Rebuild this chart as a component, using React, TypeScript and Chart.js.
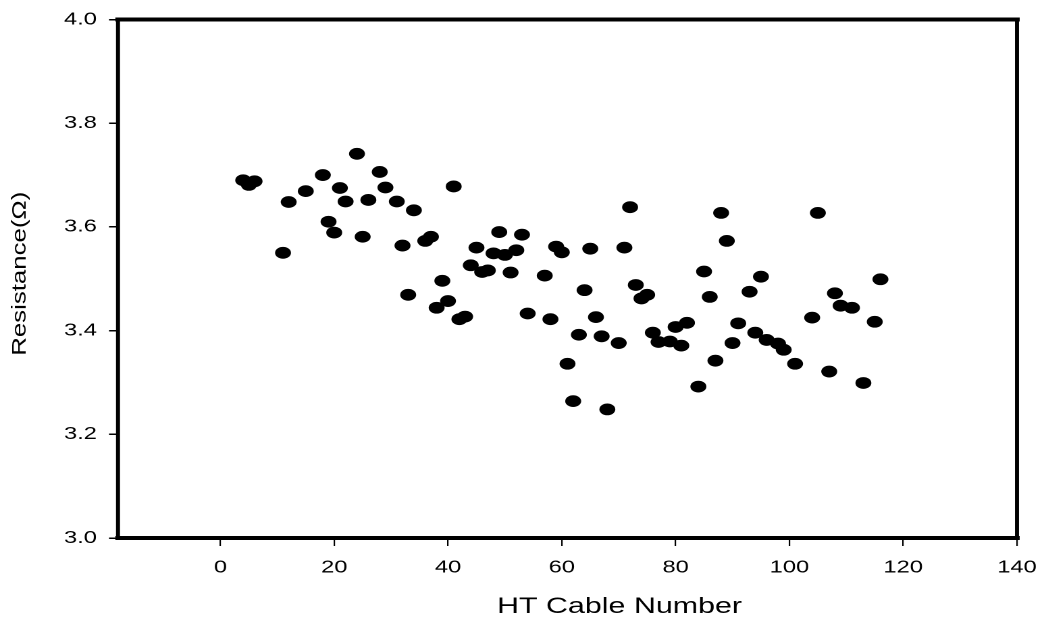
import { useEffect, useRef } from "react";
import { Chart, registerables } from "chart.js";

Chart.register(...registerables);

// Cable index and measured resistance (Ω)
const CABLE_NUMBER = [
  4, 5, 6, 11, 12, 15, 18, 19, 20, 21, 22, 24, 25, 26, 28, 29, 31, 32, 33, 34,
  36, 37, 38, 39, 40, 41, 42, 43, 44, 45, 46, 47, 48, 49, 50, 51, 52, 53, 54,
  57, 58, 59, 60, 61, 62, 63, 64, 65, 66, 67, 68, 70, 71, 72, 73, 74, 75, 76,
  77, 79, 80, 81, 82, 84, 85, 86, 87, 88, 89, 90, 91, 93, 94, 95, 96, 98, 99,
  101, 104, 105, 107, 108, 109, 111, 113, 115, 116,
];
const RESISTANCE = [
  3.69, 3.681, 3.688, 3.55, 3.648, 3.669, 3.7, 3.61, 3.589, 3.675, 3.649, 3.741,
  3.581, 3.652, 3.706, 3.676, 3.649, 3.564, 3.469, 3.632, 3.573, 3.581, 3.444,
  3.496, 3.457, 3.678, 3.422, 3.427, 3.526, 3.56, 3.513, 3.516, 3.549, 3.59,
  3.546, 3.512, 3.555, 3.585, 3.433, 3.506, 3.422, 3.562, 3.551, 3.336, 3.264,
  3.392, 3.478, 3.558, 3.426, 3.389, 3.248, 3.376, 3.56, 3.638, 3.488, 3.462,
  3.469, 3.396, 3.378, 3.379, 3.407, 3.371, 3.415, 3.292, 3.514, 3.465, 3.342,
  3.627, 3.573, 3.376, 3.414, 3.475, 3.396, 3.504, 3.382, 3.375, 3.363, 3.336,
  3.425, 3.627, 3.321, 3.472, 3.448, 3.444, 3.299, 3.417, 3.499,
];
const X_TICKS = [0, 20, 40, 60, 80, 100, 120, 140];
const Y_TICKS = [3.0, 3.2, 3.4, 3.6, 3.8, 4.0];
const X_TITLE = "HT Cable Number";
const Y_TITLE = "Resistance(Ω)";

const PAGE_W = 1044;
const PAGE_H = 629;
// the figure is laid out on a narrower canvas and widened horizontally
const LOGICAL_W = 773;
const STRETCH = PAGE_W / LOGICAL_W;

const FONT = "'Liberation Sans', Arial, Helvetica, sans-serif";

// heavy box around the plotting area
const framePlugin = {
  id: "boxFrame",
  afterDraw(chart: any) {
    const { ctx, chartArea } = chart;
    const { left, right, top, bottom } = chartArea;
    ctx.save();
    ctx.strokeStyle = "#000";
    ctx.lineCap = "square";
    ctx.lineWidth = 4;
    ctx.beginPath();
    ctx.moveTo(left, top);
    ctx.lineTo(right, top);
    ctx.moveTo(left, bottom);
    ctx.lineTo(right, bottom);
    ctx.stroke();
    ctx.lineCap = "butt";
    ctx.lineWidth = 4 / STRETCH;
    ctx.beginPath();
    ctx.moveTo(left, top - 2);
    ctx.lineTo(left, bottom + 2);
    ctx.moveTo(right, top - 2);
    ctx.lineTo(right, bottom + 2);
    ctx.stroke();
    ctx.restore();
  },
};

// axis titles, drawn with their own widening along the text direction
const titlePlugin = {
  id: "axisTitles",
  afterDraw(chart: any) {
    const { ctx, chartArea } = chart;
    ctx.save();
    ctx.fillStyle = "#000";
    ctx.textAlign = "center";
    ctx.textBaseline = "middle";

    // horizontal title under the x axis
    ctx.font = `22.5px ${FONT}`;
    ctx.fillText(X_TITLE, (chartArea.left + chartArea.right) / 2 + 38.5, 607);

    // vertical title beside the y axis
    ctx.translate(20 / STRETCH, (chartArea.top + chartArea.bottom) / 2 - 5);
    ctx.scale(1 / STRETCH, 1);
    ctx.rotate(-Math.PI / 2);
    ctx.scale(1.29, 1);
    ctx.font = `20px ${FONT}`;
    ctx.fillText(Y_TITLE, 0, 0);
    ctx.restore();
  },
};

export default function App() {
  const canvasRef = useRef<HTMLCanvasElement | null>(null);

  useEffect(() => {
    const canvas = canvasRef.current;
    if (!canvas) return;
    const points = CABLE_NUMBER.map((x, i) => ({ x, y: RESISTANCE[i] }));

    const chart = new Chart(canvas, {
      type: "scatter",
      data: {
        datasets: [
          {
            data: points,
            backgroundColor: "#000",
            borderColor: "#000",
            borderWidth: 0,
            pointRadius: 5.9,
            pointHoverRadius: 5.9,
            pointStyle: "circle",
          },
        ],
      },
      plugins: [framePlugin, titlePlugin],
      options: {
        animation: false,
        responsive: false,
        devicePixelRatio: 2,
        events: [],
        layout: { padding: { left: 0, top: 15, right: 20, bottom: 0 } },
        plugins: {
          legend: { display: false },
          tooltip: { enabled: false },
        },
        scales: {
          x: {
            type: "linear",
            min: -18,
            max: 140,
            afterBuildTicks(scale: any) {
              scale.ticks = X_TICKS.map((value) => ({ value }));
            },
            afterFit(scale: any) {
              scale.height = 91;
              scale.paddingLeft = 0;
              scale.paddingRight = 0;
            },
            border: { display: false },
            grid: {
              drawOnChartArea: false,
              drawTicks: true,
              tickLength: 8,
              color: "#000",
              lineWidth: 1.1,
            },
            ticks: {
              color: "#000",
              padding: 11,
              maxRotation: 0,
              font: { family: FONT, size: 17.5 },
              callback: (v: any) => String(v),
            },
            title: { display: false },
          },
          y: {
            type: "linear",
            min: 3.0,
            max: 4.0,
            afterBuildTicks(scale: any) {
              scale.ticks = Y_TICKS.map((value) => ({ value }));
            },
            afterFit(scale: any) {
              scale.width = 118 / STRETCH;
            },
            border: { display: false },
            grid: {
              drawOnChartArea: false,
              drawTicks: true,
              tickLength: 9 / STRETCH,
              color: "#000",
              lineWidth: 1.5,
            },
            ticks: {
              color: "#000",
              padding: 9,
              font: { family: FONT, size: 17.5 },
              callback: (v: any) => Number(v).toFixed(1),
            },
            title: { display: false },
          },
        },
      },
    });

    return () => chart.destroy();
  }, []);

  return (
    <div
      style={{
        position: "fixed",
        left: 0,
        top: 0,
        width: PAGE_W,
        height: PAGE_H,
        overflow: "hidden",
        background: "#fff",
      }}
    >
      <canvas
        ref={canvasRef}
        width={LOGICAL_W}
        height={PAGE_H}
        style={{
          display: "block",
          width: LOGICAL_W,
          height: PAGE_H,
          transform: `scaleX(${STRETCH})`,
          transformOrigin: "0 0",
        }}
      />
    </div>
  );
}
